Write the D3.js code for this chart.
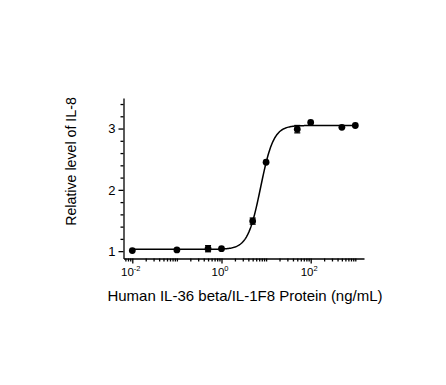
<!DOCTYPE html>
<html>
<head>
<meta charset="utf-8">
<script src="https://cdn.jsdelivr.net/npm/d3@7"></script>
<style>
  body { margin: 0; background: #fff; }
  svg { display: block; }
  text { font-family: "Liberation Sans", Arial, sans-serif; fill: #000; }
  .axis path, .axis line { stroke: #000; stroke-width: 1.3; }
</style>
</head>
<body>
<div id="chart"></div>
<script>
// Concentration (ng/mL) and relative IL-8 level
const dose = [0.01, 0.1, 0.5, 1, 5, 10, 50, 100, 500, 1000];
const level = [1.01, 1.02, 1.04, 1.04, 1.49, 2.45, 2.99, 3.10, 3.02, 3.05];
const levelErr = [0, 0, 0.05, 0, 0.05, 0, 0.06, 0, 0, 0];

// 4PL fit parameters estimated from the drawn curve
const fitBottom = 1.03;
const fitTop = 3.05;
const fitLogEC50 = 0.877;
const fitHill = 3.0;

const xMajorTicks = [-2, 0, 2];   // exponents of labelled decades
const yTicks = [1, 2, 3];

const W = 446, H = 385;

const svg = d3.select("#chart").append("svg")
  .attr("width", W)
  .attr("height", H);

const x = d3.scaleLog().domain([0.00635, 1567]).range([123.5, 364]);
const y = d3.scaleLinear().domain([0.88, 3.5]).range([258.5, 97.9]);

// minor ticks: 2..9 of each decade plus the unlabelled decades
const xMinor = [];
for (let e = -3; e <= 3; e++) {
  for (let m = 1; m <= 9; m++) {
    const v = m * Math.pow(10, e);
    if (v < x.domain()[0] || v > x.domain()[1]) continue;
    if (m === 1 && xMajorTicks.includes(e)) continue;
    xMinor.push(v);
  }
}

// x axis, minor ticks
svg.append("g")
  .attr("class", "axis")
  .attr("transform", "translate(0," + y.range()[0] + ")")
  .call(d3.axisBottom(x).tickValues(xMinor).tickSize(3).tickSizeOuter(0).tickFormat(""));

// x axis, labelled major ticks
const xAxisMajor = svg.append("g")
  .attr("class", "axis")
  .attr("transform", "translate(0," + y.range()[0] + ")")
  .call(d3.axisBottom(x)
    .tickValues(xMajorTicks.map(e => Math.pow(10, e)))
    .tickSize(5).tickSizeOuter(0).tickFormat(""));
xAxisMajor.select(".domain").remove();
xAxisMajor.selectAll(".tick").each(function(d) {
  const t = d3.select(this).append("text")
    .attr("y", 17)
    .attr("x", -2)
    .attr("text-anchor", "middle")
    .style("font-size", "11.5px");
  t.append("tspan").text("10");
  t.append("tspan")
    .attr("dy", -4.5)
    .style("font-size", "7.5px")
    .text(Math.round(Math.log10(d)));
});

// y axis, minor ticks every 0.2
const yMinor = d3.range(1, 3.5001, 0.2).map(v => +v.toFixed(1)).filter(v => !yTicks.includes(v));
svg.append("g")
  .attr("class", "axis")
  .attr("transform", "translate(" + x.range()[0] + ",0)")
  .call(d3.axisLeft(y).tickValues(yMinor).tickSize(3).tickSizeOuter(0).tickFormat(""));

const yAxisMajor = svg.append("g")
  .attr("class", "axis")
  .attr("transform", "translate(" + x.range()[0] + ",0)")
  .call(d3.axisLeft(y).tickValues(yTicks).tickSize(5).tickSizeOuter(0).tickPadding(3).tickFormat(d3.format("d")));
yAxisMajor.select(".domain").remove();
yAxisMajor.selectAll("text").style("font-size", "13px");

// fitted curve
const fit = v => fitBottom + (fitTop - fitBottom) / (1 + Math.pow(10, fitHill * (fitLogEC50 - Math.log10(v))));
const curveX = d3.range(Math.log10(dose[0]), Math.log10(dose[dose.length - 1]) + 1e-9, 0.02).map(l => Math.pow(10, l));
svg.append("path")
  .datum(curveX)
  .attr("fill", "none")
  .attr("stroke", "#000")
  .attr("stroke-width", 1.5)
  .attr("d", d3.line().x(d => x(d)).y(d => y(fit(d))));

// error bars
const pts = dose.map((d, i) => ({d: d, v: level[i], e: levelErr[i]}));
const eb = svg.append("g").attr("stroke", "#000").attr("stroke-width", 1.3);
pts.filter(p => p.e > 0).forEach(p => {
  const cx = x(p.d);
  eb.append("line").attr("x1", cx).attr("x2", cx).attr("y1", y(p.v - p.e)).attr("y2", y(p.v + p.e));
  eb.append("line").attr("x1", cx - 3).attr("x2", cx + 3).attr("y1", y(p.v - p.e)).attr("y2", y(p.v - p.e));
  eb.append("line").attr("x1", cx - 3).attr("x2", cx + 3).attr("y1", y(p.v + p.e)).attr("y2", y(p.v + p.e));
});

// data points
svg.selectAll(".dot")
  .data(pts)
  .enter()
  .append("circle")
  .attr("class", "dot")
  .attr("cx", p => x(p.d))
  .attr("cy", p => y(p.v))
  .attr("r", 3.4)
  .attr("fill", "#000");

// axis titles
svg.append("text")
  .attr("x", 245)
  .attr("y", 301)
  .attr("text-anchor", "middle")
  .style("font-size", "15px")
  .text("Human IL-36 beta/IL-1F8 Protein (ng/mL)");

svg.append("text")
  .attr("transform", "translate(76,161.5) rotate(-90)")
  .attr("text-anchor", "middle")
  .style("font-size", "14.2px")
  .text("Relative level of IL-8");
</script>
</body>
</html>
